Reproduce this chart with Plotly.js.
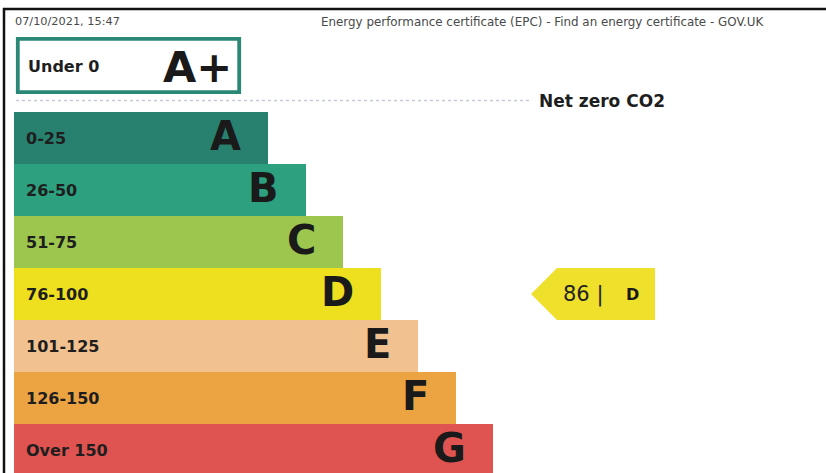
<!DOCTYPE html>
<html>
<head>
<meta charset="utf-8">
<script src="https://cdn.plot.ly/plotly-3.0.1.min.js"></script>
<style>html,body{margin:0;padding:0;background:#fff;}#chart{width:826px;height:473px;}</style>
</head>
<body>
<div id="chart"></div>
<script>
// ---- data ----
const bands = ["A", "B", "C", "D", "E", "F", "G"];
const ranges = ["0-25", "26-50", "51-75", "76-100", "101-125", "126-150", "Over 150"];
const barLengths = [6.8, 7.8, 8.8, 9.8, 10.8, 11.8, 12.8];
const topBand = "A+";
const topRange = "Under 0";
const netZeroLabel = "Net zero CO2";
const score = 86;
const rating = "D";
const headerLeft = "07/10/2021, 15:47";
const headerRight = "Energy performance certificate (EPC) - Find an energy certificate - GOV.UK";

// ---- styles ----
const bandColors = ["#28806f", "#2ca07f", "#9dc64f", "#efe01f", "#f1c190", "#eca443", "#df5450"];
const W = 826, H = 473, ML = 14, MT = 112;
const PW = W - ML, PH = H - MT;
const unit = 37.42;               // px per length unit
const xMax = PW / unit;
const yRange = [6.44, -0.5];
const FONT = "DejaVu Sans";

const px = v => (v - ML) / PW;           // pixel x -> paper
const py = v => (H - v) / PH;            // pixel y -> paper
const catPaper = v => (yRange[0] - v) / (yRange[0] - yRange[1]);

const trace = {
  type: "bar",
  orientation: "h",
  y: bands,
  x: barLengths,
  marker: {color: bandColors, line: {width: 0}},
  hoverinfo: "skip"
};

const annotations = [];
bands.forEach((b, i) => {
  annotations.push({
    xref: "x", yref: "y", x: 0, y: b, xanchor: "left", yanchor: "middle", xshift: 10,
    text: ranges[i], showarrow: false,
    font: {family: FONT, size: 16, weight: 700, color: "#1e1e1e"}
  });
  annotations.push({
    xref: "x", yref: "y", x: barLengths[i], y: b, xanchor: "right", yanchor: "middle", xshift: -25, yshift: 2,
    text: b, showarrow: false,
    font: {family: FONT, size: 40, weight: 700, color: "#1a1a1a"}
  });
});

// header texts
annotations.push({xref: "paper", yref: "paper", x: px(13), y: py(22), xanchor: "left", yanchor: "middle",
  text: headerLeft, showarrow: false, font: {family: FONT, size: 11.3, color: "#4a4a4a"}});
annotations.push({xref: "paper", yref: "paper", x: px(319), y: py(22), xanchor: "left", yanchor: "middle",
  text: headerRight, showarrow: false, font: {family: FONT, size: 11.9, color: "#4a4a4a"}});

// A+ box texts
annotations.push({xref: "paper", yref: "paper", x: px(26), y: py(66), xanchor: "left", yanchor: "middle",
  text: topRange, showarrow: false, font: {family: FONT, size: 16, weight: 700, color: "#1e1e1e"}});
annotations.push({xref: "paper", yref: "paper", x: px(234), y: py(67), xanchor: "right", yanchor: "middle",
  text: topBand, showarrow: false, font: {family: FONT, size: 43, weight: 700, color: "#1a1a1a"}});

// Net zero label
annotations.push({xref: "paper", yref: "paper", x: px(537), y: py(101), xanchor: "left", yanchor: "middle",
  text: netZeroLabel, showarrow: false, font: {family: FONT, size: 17, weight: 700, color: "#1e1e1e"}});

// score arrow
const ri = bands.indexOf(rating);
const yTop = catPaper(ri - 0.5), yBot = catPaper(ri + 0.5), yMid = catPaper(ri);
const arrowPath = `M ${px(531)} ${yMid} L ${px(557)} ${yTop} L ${px(655)} ${yTop} L ${px(655)} ${yBot} L ${px(557)} ${yBot} Z`;
annotations.push({xref: "paper", yref: "paper", x: px(561), y: yMid, xanchor: "left", yanchor: "middle",
  text: score + " |", showarrow: false, font: {family: FONT, size: 21, color: "#222"}});
annotations.push({xref: "paper", yref: "paper", x: px(624), y: yMid, xanchor: "left", yanchor: "middle",
  text: rating, showarrow: false, font: {family: FONT, size: 16, weight: 700, color: "#1a1a1a"}});

const shapes = [
  // frame
  {type: "line", xref: "paper", yref: "paper", x0: px(3), x1: px(826), y0: py(9), y1: py(9), line: {color: "#111", width: 2.5}},
  {type: "line", xref: "paper", yref: "paper", x0: px(4), x1: px(4), y0: py(8), y1: py(473), line: {color: "#111", width: 2.5}},
  // A+ box
  {type: "rect", xref: "paper", yref: "paper", x0: px(17.8), x1: px(239.2), y0: py(38.8), y1: py(92.2),
    fillcolor: "#ffffff", line: {color: "#2a8876", width: 3.8}},
  // dotted separator
  {type: "line", xref: "paper", yref: "paper", x0: px(16), x1: px(530), y0: py(100.5), y1: py(100.5),
    line: {color: "#c3ccd6", width: 1.5, dash: "dot"}},
  // arrow
  {type: "path", xref: "paper", yref: "paper", path: arrowPath, fillcolor: "#efe02b", line: {width: 0}}
];

const layout = {
  width: W, height: H,
  margin: {l: ML, r: 0, t: MT, b: 0, pad: 0},
  paper_bgcolor: "#ffffff", plot_bgcolor: "#ffffff",
  showlegend: false,
  bargap: 0,
  hovermode: false,
  xaxis: {visible: false, range: [0, xMax], fixedrange: true},
  yaxis: {visible: false, type: "category", categoryorder: "array", categoryarray: bands, range: yRange, fixedrange: true},
  annotations: annotations,
  shapes: shapes
};

Plotly.newPlot("chart", [trace], layout, {displayModeBar: false, staticPlot: true});
</script>
</body>
</html>
